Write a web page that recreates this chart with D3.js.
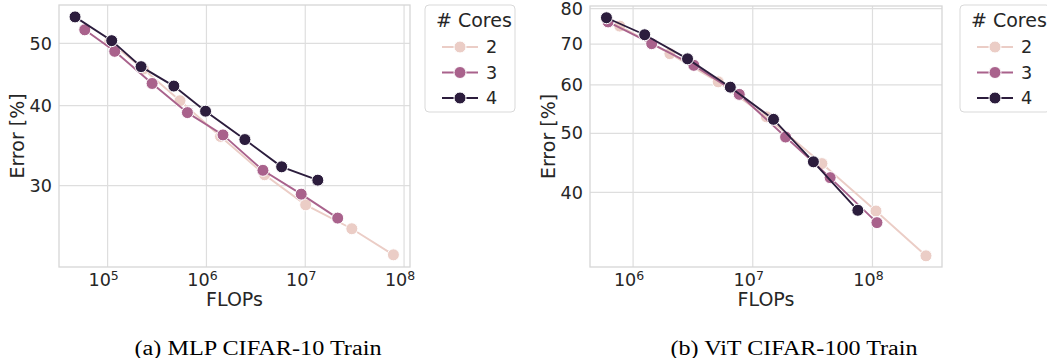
<!DOCTYPE html>
<html>
<head>
<meta charset="utf-8">
<script src="https://cdn.jsdelivr.net/npm/d3@7"></script>
<style>
  body { margin: 0; background: #fff; }
  text { font-family: "DejaVu Sans", sans-serif; fill: #262626; }
  .caption { font-family: "Liberation Serif", "Times New Roman", serif; fill: #000; }
</style>
</head>
<body>
<svg id="chart" width="1047" height="358"></svg>
<script>
// hue levels and palette
var cores = [2, 3, 4];
var coreColors = ["#ebcdc6", "#a9628c", "#2c1d3d"];

// (a) MLP CIFAR-10 Train
var mlpFlops2 = [1.05e5, 2.3e5, 5.4e5, 1.39e6, 3.88e6, 1.01e7, 2.96e7, 7.8e7];
var mlpErr2   = [50.3, 45.6, 40.7, 35.8, 31.2, 28.0, 25.7, 23.4];
var mlpFlops3 = [5.87e4, 1.18e5, 2.82e5, 6.42e5, 1.47e6, 3.73e6, 9.1e6, 2.13e7];
var mlpErr3   = [52.5, 48.6, 43.3, 39.0, 36.0, 31.7, 29.1, 26.7];
var mlpFlops4 = [4.68e4, 1.10e5, 2.18e5, 4.68e5, 9.8e5, 2.45e6, 5.77e6, 1.34e7];
var mlpErr4   = [55.0, 50.5, 46.0, 42.9, 39.2, 35.4, 32.1, 30.6];
var mlpYTicks = [30, 40, 50];
var mlpXTicks = [5, 6, 7, 8];

// (b) ViT CIFAR-100 Train
var vitFlops2 = [7.74e5, 2.03e6, 5.14e6, 1.3e7, 3.78e7, 1.07e8, 2.8e8];
var vitErr2   = [74.9, 67.5, 60.7, 53.2, 44.6, 37.3, 31.5];
var vitFlops3 = [6.18e5, 1.43e6, 3.22e6, 7.71e6, 1.88e7, 4.43e7, 1.09e8];
var vitErr3   = [76.1, 70.1, 64.6, 57.9, 49.3, 42.3, 35.7];
var vitFlops4 = [5.99e5, 1.25e6, 2.85e6, 6.49e6, 1.49e7, 3.21e7, 7.55e7];
var vitErr4   = [77.3, 72.5, 66.2, 59.5, 52.7, 44.9, 37.4];
var vitYTicks = [40, 50, 60, 70, 80];
var vitXTicks = [6, 7, 8];

var svg = d3.select("#chart");

var drawPanel = function(opt) {
  var x = d3.scaleLog().domain(opt.xDomain).range([opt.left, opt.right]);
  var y = d3.scaleLog().domain(opt.yDomain).range([opt.bottom, opt.top]);
  var g = svg.append("g");

  // grid
  g.selectAll(".gx").data(opt.xTicks).enter().append("line")
    .attr("x1", function(d){ return x(Math.pow(10, d)); })
    .attr("x2", function(d){ return x(Math.pow(10, d)); })
    .attr("y1", opt.top).attr("y2", opt.bottom)
    .attr("stroke", "#dedede").attr("stroke-width", 1.2);
  g.selectAll(".gy").data(opt.yTicks).enter().append("line")
    .attr("y1", function(d){ return y(d); })
    .attr("y2", function(d){ return y(d); })
    .attr("x1", opt.left).attr("x2", opt.right)
    .attr("stroke", "#dedede").attr("stroke-width", 1.2);

  // frame
  g.append("rect")
    .attr("x", opt.left).attr("y", opt.top)
    .attr("width", opt.right - opt.left).attr("height", opt.bottom - opt.top)
    .attr("fill", "none").attr("stroke", "#d6d6d6").attr("stroke-width", 1.3);

  // tick labels
  var xt = g.selectAll(".xt").data(opt.xTicks).enter().append("text")
    .attr("x", function(d){ return x(Math.pow(10, d)) - 4; })
    .attr("y", opt.bottom + 19)
    .attr("text-anchor", "middle")
    .attr("font-size", "17.6px");
  xt.append("tspan").text("10");
  xt.append("tspan").attr("dy", "-0.45em").attr("font-size", "12.5px").text(function(d){ return d; });

  g.selectAll(".yt").data(opt.yTicks).enter().append("text")
    .attr("x", opt.left - 7)
    .attr("y", function(d){ return y(d); })
    .attr("dy", "0.35em")
    .attr("text-anchor", "end")
    .attr("font-size", "17.6px")
    .text(function(d){ return d; });

  // axis labels
  g.append("text")
    .attr("x", (opt.left + opt.right) / 2)
    .attr("y", opt.bottom + 39)
    .attr("text-anchor", "middle")
    .attr("font-size", "19px")
    .text("FLOPs");
  g.append("text")
    .attr("transform", "translate(" + (opt.left - 35) + "," + ((opt.top + opt.bottom) / 2) + ") rotate(-90)")
    .attr("text-anchor", "middle")
    .attr("font-size", "19px")
    .text("Error [%]");

  // series
  var line = d3.line()
    .x(function(d){ return x(d[0]); })
    .y(function(d){ return y(d[1]); });
  opt.series.forEach(function(s, i) {
    var pts = d3.zip(s.flops, s.err);
    g.append("path").datum(pts)
      .attr("d", line)
      .attr("fill", "none")
      .attr("stroke", coreColors[i])
      .attr("stroke-width", 1.9);
    g.selectAll(".m" + i).data(pts).enter().append("circle")
      .attr("cx", function(d){ return x(d[0]); })
      .attr("cy", function(d){ return y(d[1]); })
      .attr("r", 6)
      .attr("fill", coreColors[i])
      .attr("stroke", "#fff")
      .attr("stroke-width", 1);
  });

  // legend
  var lg = svg.append("g").attr("transform", "translate(" + opt.legendX + ",5)");
  lg.append("rect")
    .attr("x", 0).attr("y", 0).attr("width", 90).attr("height", 107)
    .attr("rx", 4).attr("fill", "#fff").attr("stroke", "#d9d9d9");
  lg.append("text").attr("x", 11).attr("y", 22).attr("font-size", "19px").text("# Cores");
  cores.forEach(function(c, i) {
    var yy = 42 + i * 25.5;
    lg.append("line").attr("x1", 17).attr("x2", 53).attr("y1", yy).attr("y2", yy)
      .attr("stroke", coreColors[i]).attr("stroke-width", 1.9);
    lg.append("circle").attr("cx", 35).attr("cy", yy).attr("r", 6)
      .attr("fill", coreColors[i]).attr("stroke", "#fff").attr("stroke-width", 1);
    lg.append("text").attr("x", 61).attr("y", yy).attr("dy", "0.35em")
      .attr("font-size", "17.6px").text(c);
  });

  // caption
  svg.append("text").attr("class", "caption")
    .attr("x", opt.captionX).attr("y", 355)
    .attr("text-anchor", "middle")
    .attr("font-size", "20px")
    .attr("textLength", 247).attr("lengthAdjust", "spacingAndGlyphs")
    .text(opt.caption);
};

drawPanel({
  left: 59, right: 410, top: 5, bottom: 267,
  xDomain: [Math.pow(10, 4.508), Math.pow(10, 8.06)],
  yDomain: [22.4, 57.4],
  xTicks: mlpXTicks, yTicks: mlpYTicks,
  series: [
    { flops: mlpFlops2, err: mlpErr2 },
    { flops: mlpFlops3, err: mlpErr3 },
    { flops: mlpFlops4, err: mlpErr4 }
  ],
  legendX: 425, captionX: 258, caption: "(a) MLP CIFAR-10 Train"
});

drawPanel({
  left: 590, right: 942, top: 6, bottom: 267,
  xDomain: [Math.pow(10, 5.64), Math.pow(10, 8.581)],
  yDomain: [30.2, 80.8],
  xTicks: vitXTicks, yTicks: vitYTicks,
  series: [
    { flops: vitFlops2, err: vitErr2 },
    { flops: vitFlops3, err: vitErr3 },
    { flops: vitFlops4, err: vitErr4 }
  ],
  legendX: 960, captionX: 794, caption: "(b) ViT CIFAR-100 Train"
});
</script>
</body>
</html>
